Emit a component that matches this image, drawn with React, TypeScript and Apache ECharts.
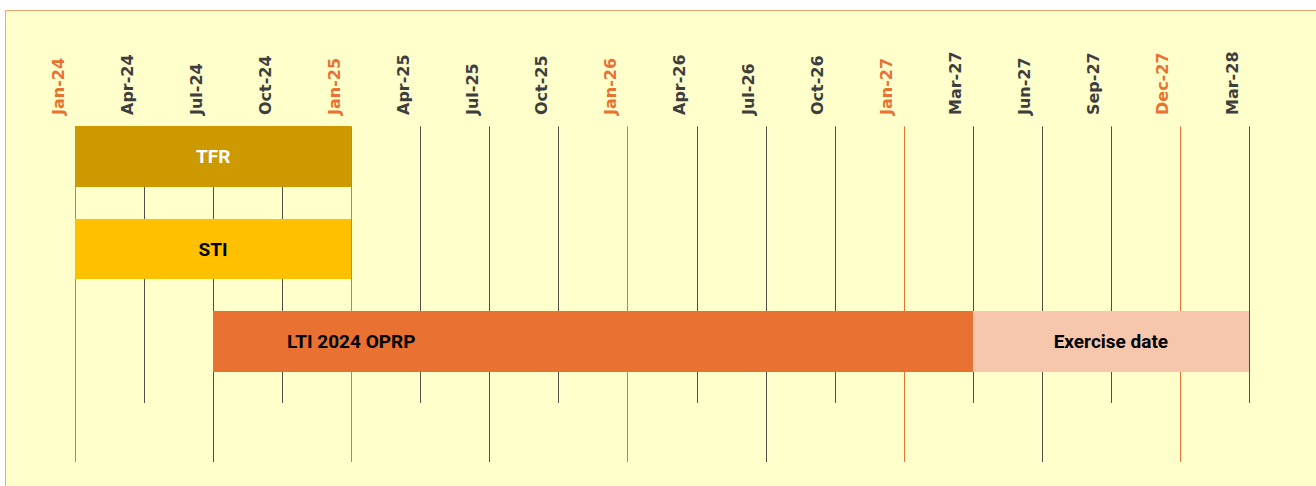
import React, { useEffect, useRef } from "react";
import * as echarts from "echarts";

// Timeline tick labels (equally spaced on the chart)
const tickLabels = [
  "Jan-24", "Apr-24", "Jul-24", "Oct-24", "Jan-25", "Apr-25", "Jul-25", "Oct-25",
  "Jan-26", "Apr-26", "Jul-26", "Oct-26", "Jan-27", "Mar-27", "Jun-27", "Sep-27",
  "Dec-27", "Mar-28",
];
// Ticks drawn in orange
const highlightedTicks = ["Jan-24", "Jan-25", "Jan-26", "Jan-27", "Dec-27"];
// Ticks whose gridline runs all the way down
const longTicks = ["Jan-24", "Jul-24", "Jan-25", "Jul-25", "Jan-26", "Jul-26", "Jan-27", "Jun-27", "Dec-27"];

// Gantt tasks
const taskNames = ["TFR", "STI", "LTI 2024 OPRP", "Exercise date"];
const taskStart = ["Jan-24", "Jan-24", "Jul-24", "Mar-27"];
const taskEnd = ["Jan-25", "Jan-25", "Mar-27", "Mar-28"];
const taskRow = [0, 1, 2, 2];
const taskLabelAt = ["Jul-24", "Jul-24", "Jan-25", "Sep-27"];
const taskColors = ["#CC9900", "#FFC000", "#E97132", "#F6C6AD"];
const taskTextColors = ["#FFFFFF", "#000000", "#000000", "#000000"];

const ORANGE = "#E97132";
const DARK = "#3E3E3E";
const LINE_DARK = "#4F4F45";
const BAR_HALF = 0.33;
const LINE_TOP = -0.33;
const LONG_END = 3.31;
const SHORT_END = 2.67;
const Y_MIN = -0.41;
const Y_MAX = 3.31;

export default function App() {
  const ref = useRef<HTMLDivElement>(null);

  useEffect(() => {
    if (!ref.current) return;
    const chart = echarts.init(ref.current, undefined, { renderer: "svg" });

    const lineData = tickLabels.map((t, i) => [
      i,
      longTicks.includes(t) ? 1 : 0,
      highlightedTicks.includes(t) ? 1 : 0,
    ]);

    const taskData = taskNames.map((n, i) => ({
      name: n,
      value: [
        tickLabels.indexOf(taskStart[i]),
        tickLabels.indexOf(taskEnd[i]),
        taskRow[i],
        tickLabels.indexOf(taskLabelAt[i]),
        i,
      ],
    }));

    const option: any = {
      animation: false,
      graphic: [
        {
          type: "rect",
          z: -100,
          silent: true,
          shape: { x: 5.5, y: 10.5, width: 1330, height: 500 },
          style: { fill: "#FFFFCC", stroke: "#F3A46C", lineWidth: 1 },
        },
      ],
      grid: { left: 75, right: 67, top: 119, bottom: 24, containLabel: false },
      xAxis: {
        type: "category",
        position: "top",
        boundaryGap: false,
        data: tickLabels,
        axisLine: { show: false },
        axisTick: { show: false },
        splitLine: { show: false },
        axisLabel: { show: false },
      },
      yAxis: {
        type: "value",
        inverse: true,
        min: Y_MIN,
        max: Y_MAX,
        show: false,
      },
      series: [
        {
          type: "custom",
          name: "gridlines",
          clip: false,
          silent: true,
          z: 1,
          data: lineData,
          renderItem: (params: any, api: any) => {
            const idx = api.value(0);
            const long = api.value(1) === 1;
            const hi = api.value(2) === 1;
            const p1 = api.coord([idx, LINE_TOP]);
            const p2 = api.coord([idx, long ? LONG_END : SHORT_END]);
            const p0 = api.coord([idx, Y_MIN]);
            const x = Math.round(p1[0]) + 0.5;
            return {
              type: "group",
              children: [
                {
                  type: "line",
                  shape: { x1: x, y1: p1[1], x2: x, y2: p2[1] },
                  style: { stroke: hi ? ORANGE : LINE_DARK, lineWidth: 1 },
                },
                {
                  type: "text",
                  x: p0[0] - 17,
                  y: p0[1] - 4,
                  rotation: Math.PI / 2,
                  style: {
                    text: tickLabels[idx],
                    fill: hi ? ORANGE : DARK,
                    font: "bold 16px 'DejaVu Sans'",
                    align: "left",
                    verticalAlign: "middle",
                  },
                },
              ],
            };
          },
        },
        {
          type: "custom",
          name: "tasks",
          clip: false,
          z: 3,
          data: taskData,
          renderItem: (params: any, api: any) => {
            const s = api.value(0);
            const e = api.value(1);
            const row = api.value(2);
            const la = api.value(3);
            const k = api.value(4);
            const p1 = api.coord([s, row - BAR_HALF]);
            const p2 = api.coord([e, row + BAR_HALF]);
            const pl = api.coord([la, row]);
            return {
              type: "group",
              children: [
                {
                  type: "rect",
                  shape: {
                    x: Math.round(p1[0]),
                    y: Math.round(p1[1]),
                    width: Math.round(p2[0]) - Math.round(p1[0]),
                    height: Math.round(p2[1]) - Math.round(p1[1]),
                  },
                  style: { fill: taskColors[k] },
                },
                {
                  type: "text",
                  x: pl[0],
                  y: pl[1],
                  style: {
                    text: taskNames[k],
                    fill: taskTextColors[k],
                    font: "bold 19px Roboto",
                    align: "center",
                    verticalAlign: "middle",
                  },
                },
              ],
            };
          },
        },
      ],
    };

    chart.setOption(option);
    return () => chart.dispose();
  }, []);

  return (
    <div
      ref={ref}
      style={{ position: "absolute", left: 0, top: 0, width: 1316, height: 486 }}
    />
  );
}
